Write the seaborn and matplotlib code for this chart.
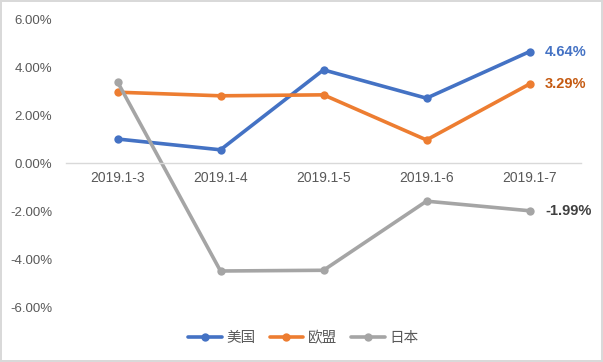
import pandas as pd
import numpy as np
import seaborn as sns
import matplotlib.pyplot as plt

# data (percent)
months = ['2019.1-3', '2019.1-4', '2019.1-5', '2019.1-6', '2019.1-7']
us = [1.00, 0.55, 3.88, 2.70, 4.64]
eu = [2.95, 2.80, 2.84, 0.96, 3.29]
jp = [3.38, -4.50, -4.47, -1.59, -1.99]
names = ['美国', '欧盟', '日本']
colors = ['#4472C4', '#ED7D31', '#A5A5A5']
label_colors = ['#4472C4', '#C55A11', '#404040']

df = pd.DataFrame({'month': months * 3,
                   'value': us + eu + jp,
                   'country': [n for n in names for _ in months]})

sns.set_style('white')
plt.rcParams['font.family'] = ['Liberation Sans', 'Noto Sans CJK SC']

fig = plt.figure(figsize=(6.03, 3.62), dpi=100)
fig.patch.set_edgecolor('#D9D9D9')
fig.patch.set_linewidth(1.5)
ax = fig.add_axes([66/603, 1 - 307/362, 515/603, 288/362])

sns.lineplot(data=df, x='month', y='value', hue='country', palette=colors,
             marker='o', markersize=6, markeredgewidth=0, linewidth=2.6,
             sort=False, ax=ax)

ax.set_xlim(-0.5, 4.5)
ax.set_ylim(-6, 6)
ax.set_yticks(np.arange(-6, 7, 2))
ax.set_yticklabels([f'{v:.2f}%' for v in np.arange(-6, 7, 2)], color='#595959', fontsize=9.5)
ax.tick_params(axis='x', colors='#595959', labelsize=10, length=0, pad=6)
ax.tick_params(axis='y', length=0, pad=10)
ax.set_xlabel('')
ax.set_ylabel('')
for s in ['left', 'right', 'top']:
    ax.spines[s].set_visible(False)
ax.spines['bottom'].set_position(('data', 0))
ax.spines['bottom'].set_color('#D9D9D9')
ax.spines['bottom'].set_linewidth(1)
for lab in ax.get_xticklabels():
    lab.set_color('#595959')

# end labels
for vals, c in zip([us, eu, jp], label_colors):
    ax.text(4 + 0.15, vals[-1], f'{vals[-1]:.2f}%', color=c, fontsize=10.5,
            fontweight='bold', va='center', ha='left')

h, l = ax.get_legend_handles_labels()
ax.legend(h, l, loc='center', bbox_to_anchor=(0.503, (362 - 338) / 362), bbox_transform=fig.transFigure,
          ncol=3, frameon=False, fontsize=10.5, handlelength=2.3, columnspacing=1.0,
          handletextpad=0.3, labelcolor='#595959')

fig.savefig('out.png', dpi=100, edgecolor=fig.get_edgecolor())
